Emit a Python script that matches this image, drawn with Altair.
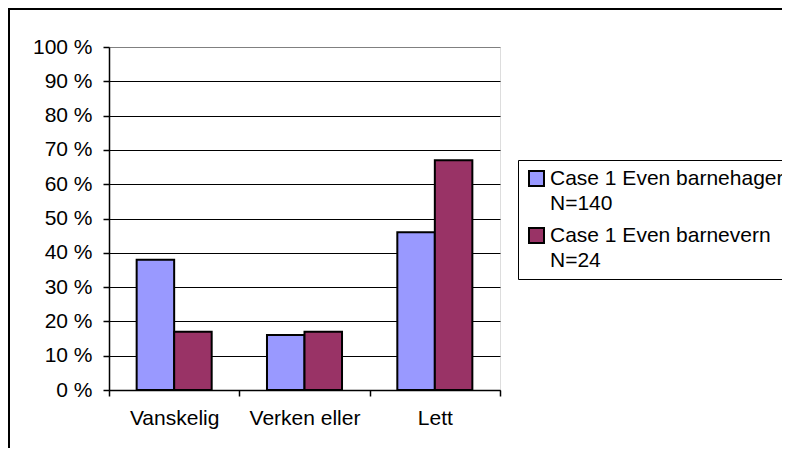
import altair as alt
import pandas as pd

categories = ["Vanskelig", "Verken eller", "Lett"]
series = ["Case 1 Even barnehager\nN=140", "Case 1 Even barnevern\nN=24"]
barnehager = [38, 16, 46]
barnevern = [17, 17, 67]
y_ticks = [0, 10, 20, 30, 40, 50, 60, 70, 80, 90, 100]
colors = ["#9999FF", "#993366"]

rows = []
for s, vals in zip(series, [barnehager, barnevern]):
    for c, v in zip(categories, vals):
        rows.append({"cat": c, "series": s, "value": v})
df = pd.DataFrame(rows)

FONT = "Liberation Sans"
FS = 21

bars = alt.Chart(df).mark_bar(stroke="black", strokeWidth=2).encode(
    x=alt.X(
        "cat:N",
        sort=categories,
        scale=alt.Scale(paddingInner=0, paddingOuter=0),
        axis=alt.Axis(
            title=None, labelAngle=0, tickBand="extent", tickSize=6,
            labelPadding=11, domainColor="black", domainWidth=1.5,
            tickColor="black", tickWidth=1.5, labelFont=FONT,
            labelFontSize=FS, labelColor="black", grid=False,
        ),
    ),
    xOffset=alt.XOffset(
        "series:N", sort=series,
        scale=alt.Scale(paddingInner=0, paddingOuter=0.737),
    ),
    y=alt.Y(
        "value:Q",
        scale=alt.Scale(domain=[0, 100]),
        axis=alt.Axis(
            title=None, values=y_ticks, labelExpr="datum.value + ' %'",
            tickSize=6, labelPadding=11, domainColor="black", domainWidth=1.5,
            tickColor="black", tickWidth=1.5, labelFont=FONT, labelFontSize=FS,
            labelColor="black", grid=True,
            gridColor={"condition": {"test": "datum.value >= 100", "value": "#808080"}, "value": "black"},
            gridWidth=1, gridOpacity=1,
        ),
    ),
    color=alt.Color(
        "series:N",
        sort=series,
        scale=alt.Scale(domain=series, range=colors),
        legend=alt.Legend(
            title=None, orient="none", legendX=409, legendY=113,
            labelExpr="split(datum.label, '\\n')",
            labelFont=FONT, labelFontSize=FS, labelColor="black", labelLimit=500,
            symbolType="square", symbolSize=225,
            symbolStrokeColor="black", symbolStrokeWidth=2, symbolOpacity=1,
            labelOffset=3, padding=8, strokeColor="black", rowPadding=10,
        ),
    ),
)

one = pd.DataFrame({"a": [0]})
frame = alt.Chart(one).mark_rect(
    fill="white", fillOpacity=0, stroke="black", strokeWidth=2
).encode(
    x=alt.value(-100), x2=alt.value(800), y=alt.value(-38), y2=alt.value(600)
)

chart = alt.layer(bars, frame).properties(
    width=391,
    height=343,
    autosize=alt.AutoSizeParams(type="none"),
    padding={"left": 101, "top": 39, "right": 282, "bottom": 58},
).configure_view(
    stroke="#808080", strokeWidth=2
).configure_legend(
    strokeWidth=1.5
).configure(
    style={"guide-label": {"lineHeight": 25}}
)

chart.save("out.html", embed_options={"renderer": "svg", "actions": False})
